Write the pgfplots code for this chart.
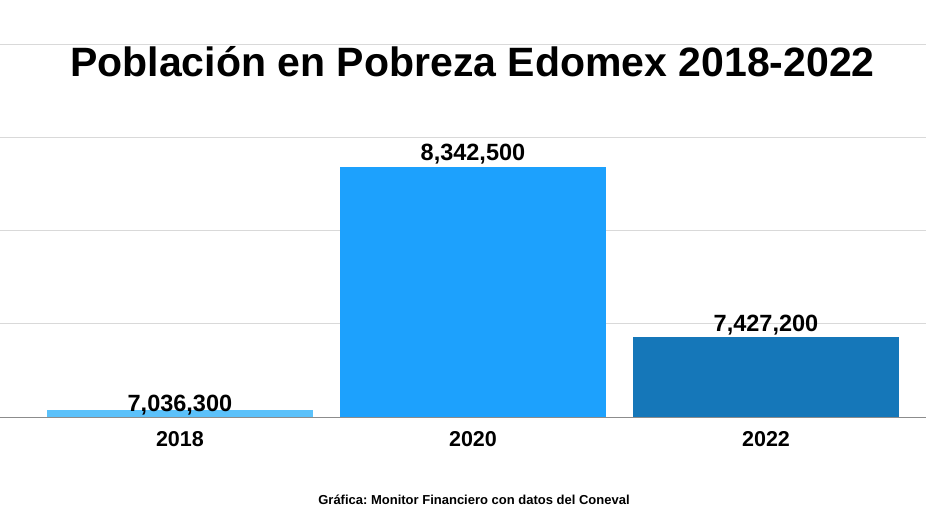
\documentclass[border=0pt]{standalone}
\usepackage{pgfplots}
\pgfplotsset{compat=1.18}
\usepackage{fontspec}
\setmainfont{Liberation Sans}
\frenchspacing
\definecolor{c18}{RGB}{91,193,250}
\definecolor{c20}{RGB}{29,161,253}
\definecolor{c22}{RGB}{21,119,185}
\definecolor{gridc}{RGB}{217,217,217}
\definecolor{basec}{RGB}{140,140,140}
\begin{document}
\begin{tikzpicture}[x=1pt,y=1pt]
\path[use as bounding box] (0,0) rectangle (926,525);
\begin{axis}[
  at={(0pt,108pt)}, anchor=south west,
  width=926pt, height=373pt, scale only axis,
  xmin=-0.614, xmax=2.546,
  ymin=7000000, ymax=9000000,
  ytick={7000000,7500000,8000000,8500000,9000000},
  yticklabels={}, scaled y ticks=false,
  ymajorgrids, grid style={gridc, line width=0.8pt},
  axis x line*=bottom, axis y line*=left,
  y axis line style={draw=none},
  x axis line style={basec, line width=1pt, -},
  xtick={0,1,2}, xticklabels={2018,2020,2022},
  major tick length=0pt,
  xticklabel style={font=\fontsize{21.5}{24}\selectfont\bfseries, yshift=-11pt},
  ybar, bar width=266pt, bar shift=0pt,
  nodes near coords={\pgfmathprintnumber[fixed, 1000 sep={,}, precision=0, assume math mode=true]{\pgfplotspointmeta}},
  every node near coord/.append style={font=\fontsize{23.5}{26}\selectfont\bfseries, black, anchor=south, inner sep=3pt},
  clip mode=individual,
]
\addplot[fill=c18, draw=none, every node near coord/.append style={yshift=-8pt}] coordinates {(0,7036300)};
\addplot[fill=c20, draw=none, every node near coord/.append style={yshift=-1pt}] coordinates {(1,8342500)};
\addplot[fill=c22, draw=none, every node near coord/.append style={yshift=-1pt}] coordinates {(2,7427200)};
\end{axis}
\node[font=\fontsize{41}{46}\selectfont\bfseries, anchor=base] at (472.5,448) {Población en Pobreza Edomex 2018-2022};
\node[font=\fontsize{13}{15}\selectfont\bfseries] at (474,25) {Gráfica: Monitor Financiero con datos del Coneval};
\end{tikzpicture}
\end{document}
